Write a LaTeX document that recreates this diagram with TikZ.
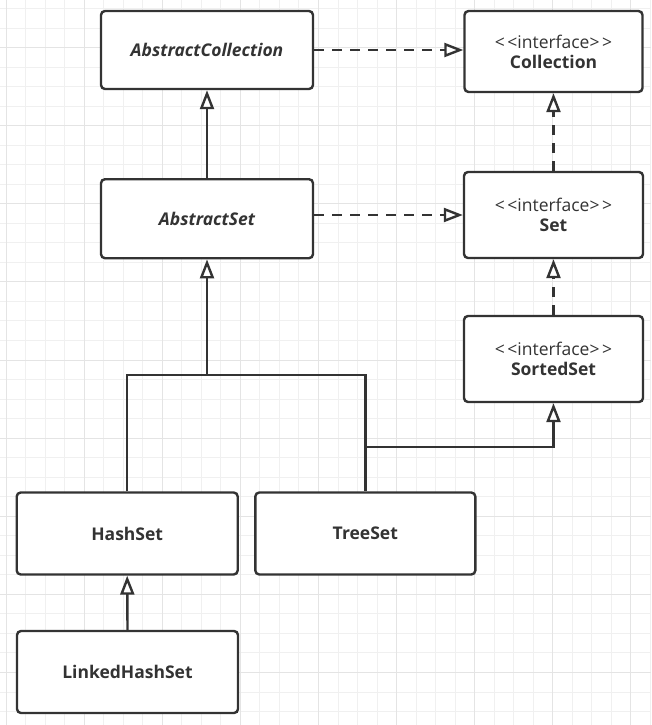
\documentclass[tikz,border=0pt]{standalone}
\usepackage{fontspec}
\setmainfont{Open Sans}
\usetikzlibrary{arrows.meta}
\definecolor{ink}{HTML}{333333}
\definecolor{gridminor}{HTML}{F0F0F0}
\definecolor{gridmajor}{HTML}{E4E4E4}
\tikzset{
  cls/.style={draw=ink, line width=2.4pt, rounded corners=4pt, fill=white,
    align=center, text=ink, inner sep=0pt,
    font=\fontsize{17.5}{20}\selectfont},
  conn/.style={draw=ink, line width=2.4pt},
  dashconn/.style={conn, dash pattern=on 10pt off 8pt},
  inh/.style={-{Triangle[length=19pt, width=14pt, fill=white]}},
}
\newcommand{\iface}{<\kern2.5pt<interface>\kern2.5pt>}
\begin{document}
\begin{tikzpicture}[x=1pt, y=-1pt]
\useasboundingbox (0,0) rectangle (651,725);
\fill[white] (0,0) rectangle (651,725);
% grid
\foreach \i in {0,...,33} {
  \draw[gridminor, line width=1pt] ({6.0+19.53*\i},0) -- ({6.0+19.53*\i},725);
}
\foreach \i in {0,...,36} {
  \draw[gridminor, line width=1pt] (0,{8.5+19.53*\i}) -- (651,{8.5+19.53*\i});
}
\foreach \i in {0,...,8} {
  \draw[gridmajor, line width=1pt] ({6.0+78.12*\i},0) -- ({6.0+78.12*\i},725);
}
\foreach \i in {0,...,8} {
  \draw[gridmajor, line width=1pt] (0,{47.6+78.12*\i}) -- (651,{47.6+78.12*\i});
}
% classes
\node[cls, minimum width=212pt, minimum height=78pt] (AC) at (207,50)
  {\bfseries\itshape AbstractCollection};
\node[cls, minimum width=178pt, minimum height=81pt] (Coll) at (553.5,51.5)
  {\iface\\\bfseries Collection};
\node[cls, minimum width=212pt, minimum height=79pt] (AS) at (207,218.7)
  {\bfseries\itshape AbstractSet};
\node[cls, minimum width=179pt, minimum height=86pt] (Set) at (553.5,215)
  {\iface\\\bfseries Set};
\node[cls, minimum width=179pt, minimum height=86pt] (SS) at (553.5,359)
  {\iface\\\bfseries SortedSet};
\node[cls, minimum width=221pt, minimum height=82pt] (HS) at (127.2,533.5)
  {\bfseries HashSet};
\node[cls, minimum width=220pt, minimum height=82pt] (TS) at (365.3,533.5)
  {\bfseries TreeSet};
\node[cls, minimum width=221pt, minimum height=82pt] (LHS) at (127.5,672)
  {\bfseries LinkedHashSet};
% connectors
\coordinate (j) at (207,375);
\coordinate (k) at (365.3,447);
\draw[dashconn, inh] (AC.east) -- (AC.east -| Coll.west);
\draw[dashconn, inh] (AS.east |- Set.west) -- (Set.west);
\draw[conn, inh] (AS.north) -- (AC.south);
\draw[dashconn, inh] (Set.north) -- (Coll.south);
\draw[dashconn, inh] (SS.north) -- (Set.south);
\draw[conn] (HS.north) |- (j) -| (TS.north);
\draw[conn, inh] (j) -- (AS.south);
\draw[conn, inh] (k) -| (SS.south);
\draw[conn, inh] (LHS.north) -- (HS.south);
\end{tikzpicture}
\end{document}
